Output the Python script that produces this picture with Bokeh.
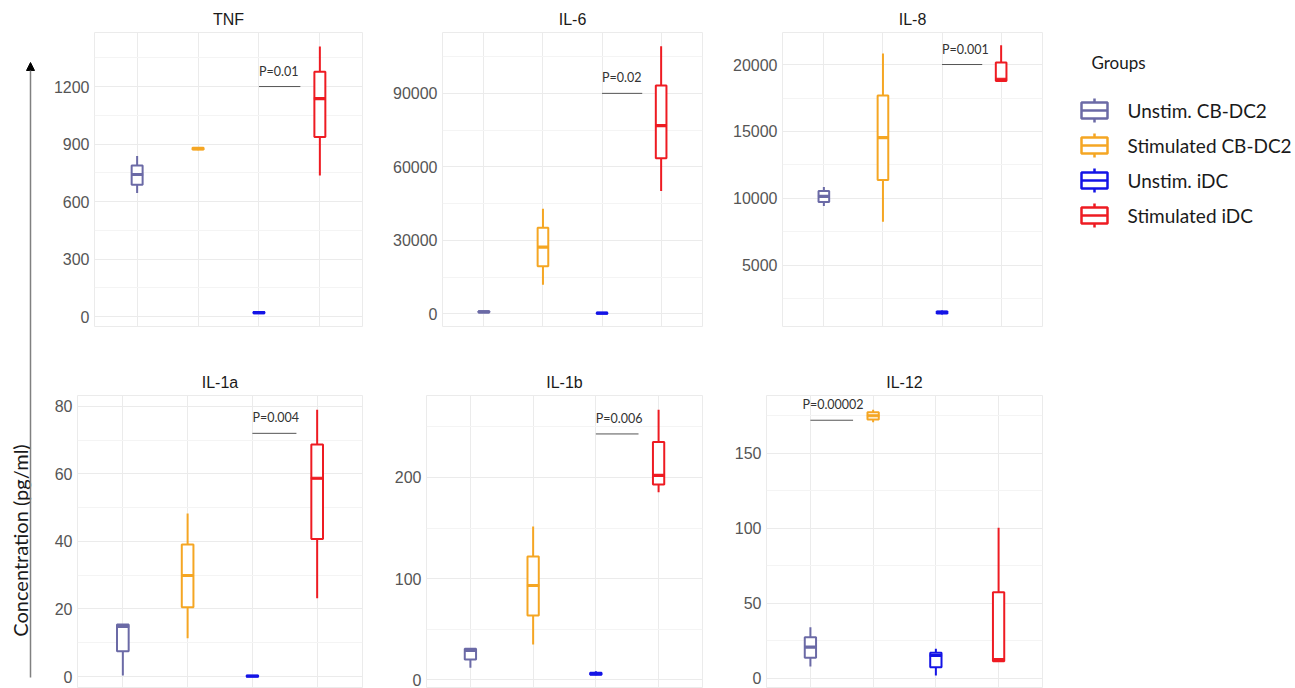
import numpy as np
from bokeh.plotting import figure
from bokeh.models import ColumnDataSource, FactorRange, Range1d, FixedTicker, Arrow, NormalHead
from bokeh.transform import dodge
from bokeh.layouts import row, column
from bokeh.core.properties import value
from bokeh.embed import file_html
from bokeh.resources import INLINE

# ---------------- data ----------------
groups = ["Unstim. CB-DC2", "Stimulated CB-DC2", "Unstim. iDC", "Stimulated iDC"]
colors = ["#6B6AA6", "#F5A623", "#1414E6", "#EE1B22"]

# box statistics per group: lower whisker, q1, median, q3, upper whisker
tnf_lo = [645, 868, 14, 736]
tnf_q1 = [687, 871, 17, 937]
tnf_med = [741, 876, 20, 1137]
tnf_q3 = [788, 881, 24, 1277]
tnf_hi = [838, 884, 27, 1409]

il6_lo = [450, 11850, 0, 50110]
il6_q1 = [550, 19450, 100, 63470]
il6_med = [800, 27220, 250, 76840]
il6_q3 = [1050, 35150, 400, 93190]
il6_hi = [1150, 42900, 500, 109250]

il8_lo = [9432, 8266, 1330, 18774]
il8_q1 = [9731, 11380, 1420, 18774]
il8_med = [10157, 14544, 1490, 18900]
il8_q3 = [10553, 17683, 1560, 20149]
il8_hi = [10852, 20822, 1640, 21442]

il1a_lo = [0.3, 11.3, 0.0, 23.2]
il1a_q1 = [7.5, 20.5, 0.05, 40.7]
il1a_med = [14.8, 29.9, 0.1, 58.7]
il1a_q3 = [15.4, 39.05, 0.2, 68.7]
il1a_hi = [15.5, 48.3, 0.3, 79.0]

il1b_lo = [11.8, 34.9, 4.5, 185.4]
il1b_q1 = [20.0, 63.5, 5.0, 193.0]
il1b_med = [29.0, 93.2, 6.0, 202.0]
il1b_q3 = [30.6, 121.8, 7.0, 235.0]
il1b_hi = [31.0, 151.5, 8.5, 267.0]

il12_lo = [7.8, 170.7, 1.8, 11.0]
il12_q1 = [13.6, 172.5, 7.3, 11.3]
il12_med = [20.7, 175.0, 15.1, 12.3]
il12_q3 = [27.3, 177.3, 16.9, 57.3]
il12_hi = [34.0, 179.0, 19.6, 100.3]

# tick labels
tnf_ticks = [0, 300, 600, 900, 1200]
tnf_minor = [150, 450, 750, 1050, 1350]
il6_ticks = [0, 30000, 60000, 90000]
il6_minor = [15000, 45000, 75000, 105000]
il8_ticks = [5000, 10000, 15000, 20000]
il8_minor = [2500, 7500, 12500, 17500]
il1a_ticks = [0, 20, 40, 60, 80]
il1a_minor = [10, 30, 50, 70]
il1b_ticks = [0, 100, 200]
il1b_minor = [50, 150, 250]
il12_ticks = [0, 50, 100, 150]
il12_minor = [25, 75, 125, 175]

# significance annotations
p_texts = ["P=0.01", "P=0.02", "P=0.001", "P=0.004", "P=0.006", "P=0.00002"]
p_levels = [1200, 90000, 20000, 72, 243, 172]
p_groups = [groups[2], groups[2], groups[2], groups[2], groups[2], groups[0]]

titles = ["TNF", "IL-6", "IL-8", "IL-1a", "IL-1b", "IL-12"]

# ---------------- layout / style ----------------
stats = [
    (tnf_lo, tnf_q1, tnf_med, tnf_q3, tnf_hi, tnf_ticks, tnf_minor),
    (il6_lo, il6_q1, il6_med, il6_q3, il6_hi, il6_ticks, il6_minor),
    (il8_lo, il8_q1, il8_med, il8_q3, il8_hi, il8_ticks, il8_minor),
    (il1a_lo, il1a_q1, il1a_med, il1a_q3, il1a_hi, il1a_ticks, il1a_minor),
    (il1b_lo, il1b_q1, il1b_med, il1b_q3, il1b_hi, il1b_ticks, il1b_minor),
    (il12_lo, il12_q1, il12_med, il12_q3, il12_hi, il12_ticks, il12_minor),
]
yranges = [(-52, 1482), (-5190, 114850), (441, 22391), (-3.55, 83.2), (-8.6, 281), (-6.9, 188.5)]
# width, height, border left, right, top, bottom, p-text x offset
geom = [
    (340, 340, 54, 18, 32, 14, 0),
    (340, 340, 62, 18, 32, 14, 0),
    (340, 340, 62, 18, 32, 14, 0),
    (340, 348, 37, 18, 55, 0, 0),
    (340, 348, 46, 18, 55, 0, 0),
    (340, 348, 46, 18, 55, 0, -8),
]

GRID = "#EBEBEB"
MINOR = "#F4F4F4"
BOXW = 0.18


def make_panel(i):
    lo, q1, med, q3, hi, ticks, minor = stats[i]
    w, h, bl, br, bt, bb, tdx = geom[i]
    p = figure(width=w, height=h, title=titles[i],
               x_range=FactorRange(factors=groups, range_padding=0.2, range_padding_units="absolute"),
               y_range=Range1d(*yranges[i]),
               output_backend="svg", toolbar_location=None, tools="",
               min_border_left=bl, min_border_right=br, min_border_top=bt, min_border_bottom=bb,
               background_fill_color="white", border_fill_color="white",
               outline_line_color=GRID)
    p.title.align = "center"
    p.title.text_font = "Liberation Sans"
    p.title.text_font_size = "16px"
    p.title.text_font_style = "normal"
    p.title.text_color = "#1A1A1A"
    p.xaxis.visible = False
    p.yaxis.ticker = FixedTicker(ticks=ticks, minor_ticks=minor)
    p.yaxis.axis_line_color = None
    p.yaxis.major_tick_line_color = None
    p.yaxis.minor_tick_line_color = None
    p.yaxis.major_tick_out = 0
    p.yaxis.major_tick_in = 0
    p.yaxis.minor_tick_out = 0
    p.yaxis.minor_tick_in = 0
    p.yaxis.major_label_standoff = 5
    p.yaxis.major_label_text_font = "Liberation Sans"
    p.yaxis.major_label_text_font_size = "16px"
    p.yaxis.major_label_text_color = "#555555"
    p.xgrid.grid_line_color = GRID
    p.ygrid.grid_line_color = GRID
    p.ygrid.minor_grid_line_color = MINOR

    src = ColumnDataSource(dict(g=groups, lo=lo, q1=q1, med=med, q3=q3, hi=hi, c=colors))
    p.segment(x0="g", y0="lo", x1="g", y1="hi", line_color="c", line_width=2, source=src)
    p.vbar(x="g", bottom="q1", top="q3", width=BOXW, fill_color="white", line_color="c",
           line_width=2, source=src)
    p.rect(x="g", y="med", width=BOXW, height=2, height_units="screen", fill_color="c",
           line_color="c", line_width=1.2, source=src)

    asrc = ColumnDataSource(dict(g=[p_groups[i]], y=[p_levels[i]], t=[p_texts[i]]))
    p.segment(x0=dodge("g", 0.0, range=p.x_range), x1=dodge("g", 0.68, range=p.x_range),
              y0="y", y1="y", line_color="#555555", line_width=1, source=asrc)
    p.text(x=dodge("g", 0.0, range=p.x_range), y="y", text="t", source=asrc,
           x_offset=tdx, y_offset=-8, text_align="left", text_baseline="bottom",
           text_font=value("Lato"), text_font_size="12.5px", text_color="#333333")
    return p


panels = [make_panel(i) for i in range(6)]

# left strip: global y label with arrow
ls = figure(width=40, height=688, x_range=Range1d(0, 40), y_range=Range1d(0, 688),
            x_axis_type=None, y_axis_type=None, output_backend="svg", toolbar_location=None,
            tools="", min_border=0, outline_line_color=None)
ls.add_layout(Arrow(end=NormalHead(size=8, fill_color="black", line_color="black"),
                    x_start=30, y_start=11, x_end=30, y_end=626,
                    line_color="#808080", line_width=1.5))
ls.text(x=[19], y=[148], text=["Concentration (pg/ml)"], angle=np.pi / 2,
        text_align="center", text_baseline="middle", text_font=value("Lato"),
        text_font_size="20px", text_color="#1A1A1A")

# legend strip
lg = figure(width=235, height=688, x_range=Range1d(1060, 1295), y_range=Range1d(688, 0),
            x_axis_type=None, y_axis_type=None, output_backend="svg", toolbar_location=None,
            tools="", min_border=0, outline_line_color=None)
leg_y = [110, 145, 180, 215]
icon_x = [1094] * 4
lsrc = ColumnDataSource(dict(x=icon_x, y=leg_y, c=colors, t=groups,
                             yt2=[v - 12 for v in leg_y], yb2=[v + 12 for v in leg_y],
                             xl=[v - 13 for v in icon_x], xr=[v + 13 for v in icon_x],
                             xtxt=[1127] * 4))
lg.segment(x0="x", y0="yt2", x1="x", y1="yb2", line_color="c", line_width=2.5, source=lsrc)
lg.rect(x="x", y="y", width=26, height=16, fill_color="white", line_color="c",
        line_width=2.5, source=lsrc)
lg.segment(x0="xl", y0="y", x1="xr", y1="y", line_color="c", line_width=2.5, source=lsrc)
lg.text(x="xtxt", y="y", text="t", text_baseline="middle", text_align="left",
        text_font=value("Lato"), text_font_size="19px", text_color="#1A1A1A", source=lsrc)
lg.text(x=[1091], y=[62], text=["Groups"], text_baseline="middle", text_align="left",
        text_font=value("Lato"), text_font_size="17px", text_color="#1A1A1A")

layout = row(ls, column(row(*panels[:3]), row(*panels[3:])), lg)

open("out.html", "w").write(file_html(layout, INLINE))
